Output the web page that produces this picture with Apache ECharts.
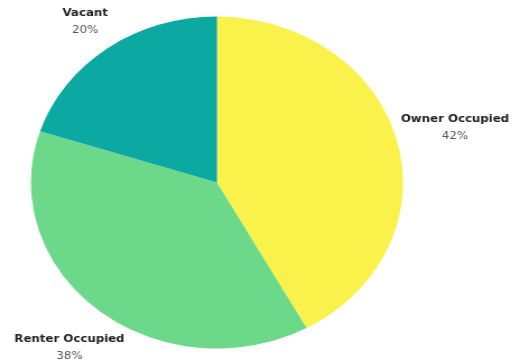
<!DOCTYPE html>
<html><head><meta charset="utf-8">
<script src="https://cdn.jsdelivr.net/npm/echarts@6/dist/echarts.min.js"></script>
<style>
html,body{margin:0;padding:0;background:#fff;overflow:hidden;}
#wrap{width:520px;height:360px;overflow:hidden;}
#c{width:464px;height:360px;transform:scaleX(1.1207);transform-origin:0 0;}
</style></head>
<body><div id="wrap"><div id="c"></div></div>
<script>
var categories = ["Owner Occupied", "Renter Occupied", "Vacant"];
var values = [42, 38, 20];
var colors = ["#FAF24A", "#6CD98A", "#0BA9A2"];
var labelPos = [[406, 111], [62, 331], [76, 5]];

var chart = echarts.init(document.getElementById('c'), null, {renderer: 'canvas'});
chart.setOption({
  animation: false,
  series: [{
    type: 'pie',
    center: [193.6, 182.5],
    radius: [0, 166],
    startAngle: 90,
    clockwise: true,
    data: categories.map(function (n, i) {
      return {name: n, value: values[i], itemStyle: {color: colors[i]}};
    }),
    itemStyle: {borderColor: '#fff', borderWidth: 0},
    label: {
      show: true,
      position: 'outside',
      overflow: 'none',
      bleedMargin: 0,
      formatter: '{n|{b}}\n{p|{c}%}',
      rich: {
        n: {fontFamily: '"DejaVu Sans", sans-serif', fontWeight: 'bold', fontSize: 10.5, color: '#222', lineHeight: 17, align: 'center'},
        p: {fontFamily: '"DejaVu Sans", sans-serif', fontSize: 10.5, color: '#555', lineHeight: 17, align: 'center'}
      }
    },
    labelLine: {show: false},
    labelLayout: function (p) {
      var pos = labelPos[p.dataIndex];
      return {x: pos[0], y: pos[1], align: 'center', verticalAlign: 'top', width: 160};
    }
  }]
});
</script></body></html>
